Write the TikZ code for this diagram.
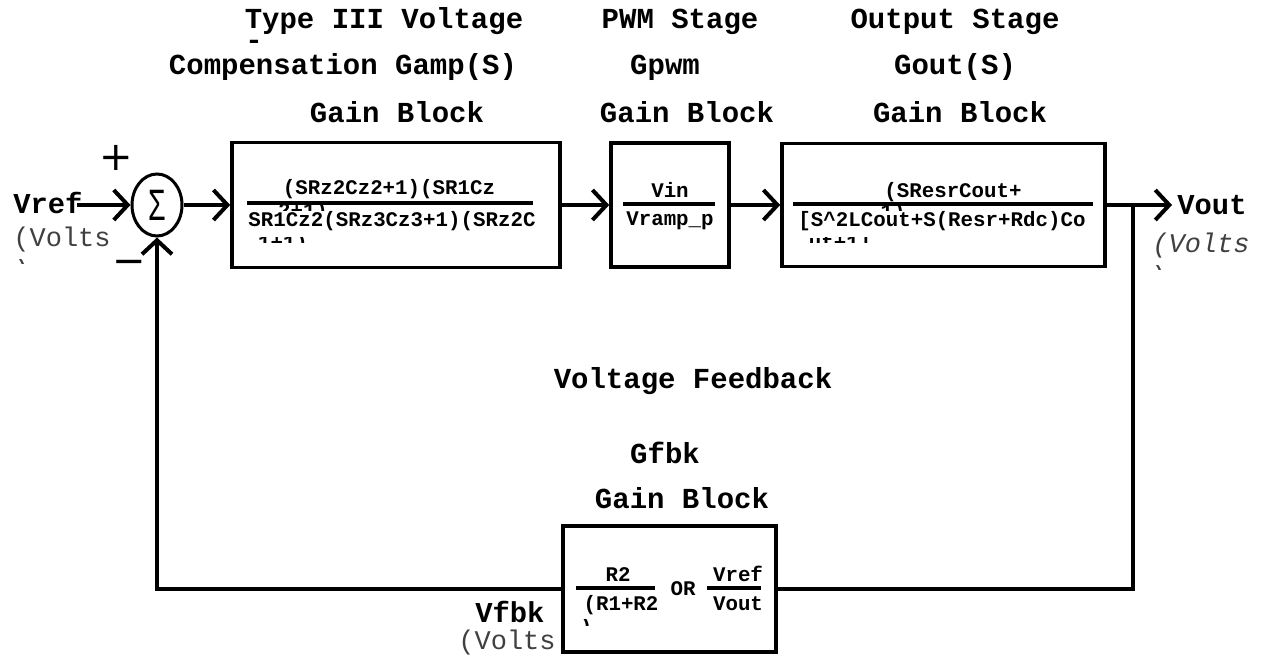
\documentclass[tikz,border=0pt]{standalone}
\usepackage{fontspec}
\setmainfont{Liberation Mono}
\newfontfamily\symfont{DejaVu Sans}
\newfontfamily\sigfont{Liberation Sans}
\usetikzlibrary{shapes.geometric,arrows.meta}

\tikzset{
  gainbox/.style={draw=black, line width=1.8pt},
  sumnode/.style={draw=black, ellipse, line width=1.5pt, minimum width=25pt, minimum height=31pt},
  wire/.style={draw=black, line width=2pt},
  arr/.style={-{Straight Barb[length=7pt,width=15pt]}},
  fracline/.style={line width=1.7pt},
  hdr/.style={font=\fontsize{14.5}{16}\selectfont\bfseries, anchor=base},
  sig/.style={font=\fontsize{14.4}{16}\selectfont\bfseries, anchor=base west},
  unit/.style={font=\fontsize{13.5}{15}\selectfont, text=black!75, anchor=base west},
  eqn/.style={font=\fontsize{10.4}{12}\selectfont\bfseries, anchor=base},
  sign/.style={font=\symfont\fontsize{20}{20}\selectfont},
}

\begin{document}
\begin{tikzpicture}[x=0.5pt,y=-0.5pt]
\tikzstyle{every node}+=[inner sep=0pt]
\useasboundingbox (0,0) rectangle (1261,662);

\node[hdr] (typeiii) at (384,29) {Type III Voltage};
\begin{scope}
\clip (240,38) rectangle (270,43);
\node[hdr] (dash) at (254,50) {-};
\end{scope}
\node[hdr] (comp) at (343,75) {Compensation Gamp(S)};
\node[hdr] (ampgain) at (397,123) {Gain Block};
\node[hdr] (pwmst) at (680,29) {PWM Stage};
\node[hdr] (gpwm) at (665,75) {Gpwm};
\node[hdr] (pwmgain) at (687,123) {Gain Block};
\node[hdr] (outst) at (955,29) {Output Stage};
\node[hdr] (gout) at (955,75) {Gout(S)};
\node[hdr] (outgain) at (960,123) {Gain Block};
\node[hdr] (fbkhd) at (693,388) {Voltage Feedback};
\node[hdr] (gfbk) at (665,463) {Gfbk};
\node[hdr] (fbkgain) at (682,508) {Gain Block};

\node[sumnode] (sum) at (157,205) {\sigfont\fontsize{22}{22}\selectfont\scalebox{0.65}[1]{Σ}};
\node[sign] (plus) at (116,158) {+};
\node[sign] (minus) at (129,267) {−};

\node[gainbox, minimum width=164pt, minimum height=62.5pt] (ampblk) at (396,205) {};
\node[gainbox, minimum width=59pt, minimum height=62pt] (pwmblk) at (670,205) {};
\node[gainbox, minimum width=161.5pt, minimum height=61.5pt] (outblk) at (943.5,205) {};
\node[gainbox, minimum width=106.5pt, minimum height=63pt] (fbkblk) at (669.5,589) {};

\node[eqn] (ampnum) at (389,195) {(SRz2Cz2+1)(SR1Cz};
\draw[fracline] (247,203) -- (533,203);
\node[eqn] (ampden) at (392,227) {SR1Cz2(SRz3Cz3+1)(SRz2C};
\node[eqn] (pwmnum) at (670,198) {Vin};
\draw[fracline] (623,204) -- (715,204);
\node[eqn] (pwmden) at (670,226) {Vramp\_p};
\node[eqn] (outnum) at (953,198) {(SResrCout+};
\draw[fracline] (793,204) -- (1093,204);
\node[eqn] (outden) at (942,227) {[S\textasciicircum 2LCout+S(Resr+Rdc)Co};
\node[eqn] (fbknuma) at (618,581) {R2};
\draw[fracline] (576,588) -- (655,588);
\node[eqn] (fbkdena) at (621,610) {(R1+R2};
\node[eqn] (orword) at (683,595) {OR};
\draw[fracline] (707,588) -- (761,588);
\node[eqn] (fbknumb) at (738,581) {Vref};
\node[eqn] (fbkdenb) at (738,610) {Vout};

\begin{scope}
\clip (240,205) rectangle (540,211);
\node[eqn] (ampnumb) at (303,218) {2+1)};
\end{scope}
\begin{scope}
\clip (240,238) rectangle (540,243);
\node[eqn] (ampdenb) at (283,250) {1+1)};
\end{scope}
\begin{scope}
\clip (790,206) rectangle (1095,211);
\node[eqn] (outnumb) at (893,219) {1)};
\end{scope}
\begin{scope}
\clip (790,238) rectangle (1095,243);
\node[eqn] (outdenb) at (840,250) {ut+1]};
\end{scope}
\begin{scope}
\clip (570,619) rectangle (660,625);
\node[eqn] (fbkdenc) at (586,633) {)};
\end{scope}
\begin{scope}
\clip (0,260) rectangle (40,264);
\node[unit] (vrefv) at (13,278) {)};
\end{scope}
\begin{scope}
\clip (1140,266) rectangle (1180,270);
\node[unit] (voutv) at (1150,284) {)};
\end{scope}

\node[sig] (vref) at (13,214) {Vref};
\node[unit] (vrefu) at (13,247) {(Volts};
\node[sig] (vout) at (1177,215) {Vout};
\node[unit, font=\fontsize{13.5}{15}\selectfont\itshape] (voutu) at (1152,253) {(Volts};
\node[sig] (vfbk) at (475,622) {Vfbk};
\node[unit] (vfbku) at (458,649) {(Volts};

\coordinate (vin) at (77,205);
\coordinate (voutend) at (1172,205);
\coordinate (tap) at (1133,205);

\draw[wire,arr] (vin) -- (sum.west);
\draw[wire,arr] (sum.east) -- (ampblk.west);
\draw[wire,arr] (ampblk.east) -- (pwmblk.west);
\draw[wire,arr] (pwmblk.east) -- (outblk.west);
\draw[wire,arr] (outblk.east) -- (voutend);
\draw[wire] (tap) |- (fbkblk.east);
\draw[wire,arr] (fbkblk.west) -| (sum.south);
\end{tikzpicture}
\end{document}
